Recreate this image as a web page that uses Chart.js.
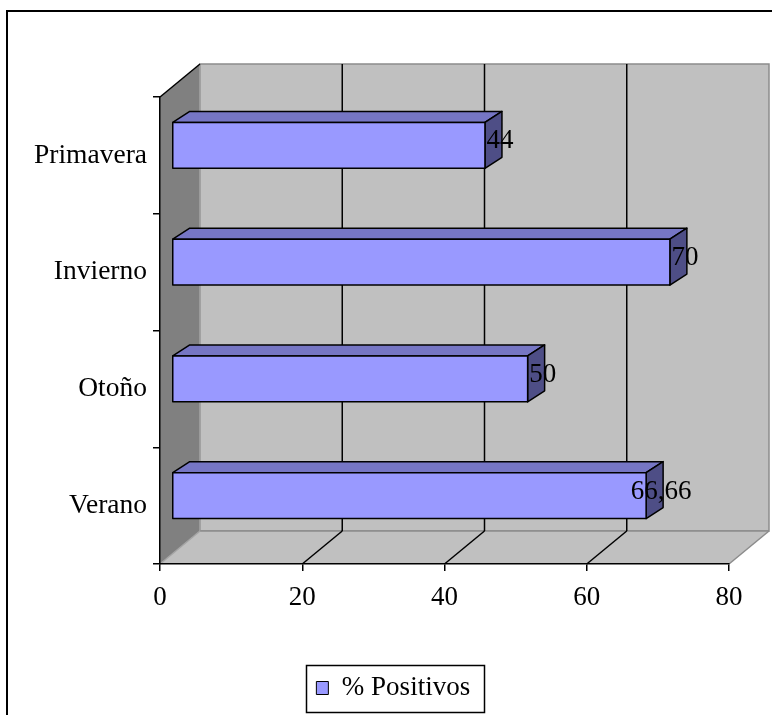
<!DOCTYPE html>
<html>
<head>
<meta charset="utf-8">
<script src="https://cdn.jsdelivr.net/npm/chart.js@4.4.1/dist/chart.umd.min.js"></script>
<style>
  html, body { margin: 0; padding: 0; background: #fff; }
  canvas { display: block; }
</style>
</head>
<body>
<canvas id="chart" width="772" height="715"></canvas>
<script>
// Data
const seasons = ['Primavera', 'Invierno', 'Otoño', 'Verano'];
const positivos = [44, 70, 50, 66.66];
const xTicks = [0, 20, 40, 60, 80];
const seriesName = '% Positivos';

// Look of the 3D box
const FONT = "'Liberation Serif', 'Times New Roman', serif";
const WALL_DEPTH = { dx: 40, dy: -33 };   // back wall offset from the front plane
const BAR_SHIFT = { dx: 12, dy: -10 };    // bar front face offset from the front plane
const BAR_DEPTH = { dx: 17, dy: -11 };    // bar thickness
const LEGEND_SPAN = { left: 57.5 };       // horizontal span the legend is centred in
const COLORS = {
  front: '#9999ff', top: '#7676c4', side: '#4e4e86',
  wall: '#c0c0c0', sideWall: '#808080', wallEdge: '#8c8c8c', faintEdge: '#a4a4a4'
};
const LW = 1.5;

function poly(ctx, pts, fill, stroke, lw) {
  ctx.beginPath();
  ctx.moveTo(pts[0][0], pts[0][1]);
  for (let i = 1; i < pts.length; i++) ctx.lineTo(pts[i][0], pts[i][1]);
  ctx.closePath();
  if (fill) { ctx.fillStyle = fill; ctx.fill(); }
  if (stroke) { ctx.strokeStyle = stroke; ctx.lineWidth = lw || 1; ctx.stroke(); }
}
function line(ctx, x1, y1, x2, y2, color, lw) {
  ctx.beginPath();
  ctx.moveTo(x1, y1); ctx.lineTo(x2, y2);
  ctx.strokeStyle = color; ctx.lineWidth = lw || 1; ctx.stroke();
}

const scene3d = {
  id: 'scene3d',
  afterLayout(chart) {
    // centre the legend between the left margin and the plot's right edge
    const lg = chart.legend;
    if (lg) { lg.left = LEGEND_SPAN.left; lg.right = chart.chartArea.right; }
  },
  beforeDraw(chart) {
    const { ctx, chartArea: a, scales: { x } } = chart;
    const { dx, dy } = WALL_DEPTH;
    const L = a.left, R = a.right, T = a.top, B = a.bottom;
    ctx.save();
    ctx.fillStyle = '#fff';
    ctx.fillRect(0, 0, chart.width, chart.height);

    // back wall
    poly(ctx, [[L + dx, T + dy], [R + dx, T + dy], [R + dx, B + dy], [L + dx, B + dy]],
      COLORS.wall, COLORS.wallEdge, LW);
    // side wall
    poly(ctx, [[L, T], [L + dx, T + dy], [L + dx, B + dy], [L, B]], COLORS.sideWall);
    line(ctx, L + dx, T + dy, L + dx, B + dy, COLORS.faintEdge, LW);
    // floor
    poly(ctx, [[L, B], [L + dx, B + dy], [R + dx, B + dy], [R, B]], COLORS.wall);
    line(ctx, L + dx, B + dy, R + dx, B + dy, COLORS.wallEdge, LW);
    line(ctx, R, B, R + dx, B + dy, COLORS.wallEdge, LW);
    line(ctx, L, B, L + dx, B + dy, COLORS.faintEdge, LW);

    // grid lines on floor and back wall
    xTicks.forEach(v => {
      if (v === x.min || v === x.max) return;
      const px = x.getPixelForValue(v);
      line(ctx, px, B, px + dx, B + dy, '#000', LW);
      line(ctx, px + dx, B + dy, px + dx, T + dy, '#000', LW);
    });
    // top edge of the side wall
    line(ctx, L, T, L + dx, T + dy, '#000', LW);
    ctx.restore();
  },
  afterDatasetsDraw(chart) {
    const { ctx } = chart;
    const meta = chart.getDatasetMeta(0);
    const values = chart.data.datasets[0].data;
    ctx.save();
    ctx.lineJoin = 'round';
    meta.data.forEach((el, i) => {
      const h = el.height;
      const x0 = el.base + BAR_SHIFT.dx, x1 = el.x + BAR_SHIFT.dx;
      const y0 = el.y - h / 2 + BAR_SHIFT.dy, y1 = el.y + h / 2 + BAR_SHIFT.dy;
      const ddx = BAR_DEPTH.dx, ddy = BAR_DEPTH.dy;
      poly(ctx, [[x0, y0], [x0 + ddx, y0 + ddy], [x1 + ddx, y0 + ddy], [x1, y0]], COLORS.top, '#000', LW);
      poly(ctx, [[x1, y0], [x1 + ddx, y0 + ddy], [x1 + ddx, y1 + ddy], [x1, y1]], COLORS.side, '#000', LW);
      poly(ctx, [[x0, y0], [x1, y0], [x1, y1], [x0, y1]], COLORS.front, '#000', LW);

      // value label at the end of the bar
      ctx.fillStyle = '#000';
      ctx.font = '27px ' + FONT;
      ctx.textAlign = 'center';
      ctx.textBaseline = 'middle';
      const txt = String(values[i]).replace('.', ',');
      ctx.fillText(txt, x1 + 15, (y0 + y1) / 2 - 4);
    });
    ctx.restore();
  },
  afterDraw(chart) {
    const { ctx } = chart;
    const lg = chart.legend;
    ctx.save();
    // frame around the legend
    if (lg && lg.lineWidths) {
      const pad = lg.options.labels.padding;
      const lw = lg.lineWidths[0];
      const cx = (lg.left + pad + lg.right - lw) / 2;
      const left = Math.round(cx - 10) + 0.5;
      const right = Math.round(cx + lw + 4) + 0.5;
      ctx.strokeStyle = '#000';
      ctx.lineWidth = 1.5;
      ctx.strokeRect(left, Math.round(lg.top) + 0.5, right - left, Math.round(lg.bottom - lg.top));
    }
    // outer frame
    ctx.lineWidth = 2;
    ctx.strokeStyle = '#000';
    ctx.strokeRect(7, 11, 800, 760);
    ctx.restore();
  }
};

Chart.defaults.font.family = FONT;
Chart.defaults.color = '#000';

new Chart(document.getElementById('chart'), {
  type: 'bar',
  data: {
    labels: seasons,
    datasets: [{
      label: seriesName,
      data: positivos,
      backgroundColor: 'rgba(0,0,0,0)',
      borderWidth: 0,
      barPercentage: 0.394,
      categoryPercentage: 1
    }]
  },
  options: {
    indexAxis: 'y',
    responsive: false,
    animation: false,
    events: [],
    layout: { padding: { top: 97, left: 0, right: 43, bottom: 3.5 } },
    scales: {
      x: {
        type: 'linear',
        min: 0, max: 80,
        afterBuildTicks(s) { s.ticks = xTicks.map(v => ({ value: v })); },
        afterFit(s) {
          s.height = 100.5;
          s.paddingLeft = s.paddingRight = s.paddingTop = s.paddingBottom = 0;
        },
        grid: { display: true, drawOnChartArea: false, drawTicks: true, tickLength: 7, color: '#000', lineWidth: LW },
        border: { display: true, color: '#000', width: LW },
        ticks: { font: { size: 27 }, color: '#000', padding: 11, maxRotation: 0 }
      },
      y: {
        afterFit(s) {
          s.width = 160;
          s.paddingLeft = s.paddingRight = s.paddingTop = s.paddingBottom = 0;
        },
        grid: { display: true, drawOnChartArea: false, drawTicks: true, tickLength: 7, color: '#000', lineWidth: LW, offset: true },
        border: { display: true, color: '#000', width: LW },
        ticks: { font: { size: 27.5 }, color: '#000', padding: 6 }
      }
    },
    plugins: {
      tooltip: { enabled: false },
      legend: {
        display: true,
        position: 'bottom',
        labels: {
          font: { size: 27 },
          color: '#000',
          boxWidth: 12,
          boxHeight: 13,
          padding: 10,
          generateLabels() {
            return [{
              text: seriesName, fillStyle: COLORS.front, strokeStyle: '#000',
              lineWidth: 1, hidden: false, datasetIndex: 0, fontColor: '#000'
            }];
          }
        }
      }
    }
  },
  plugins: [scene3d]
});
</script>
</body>
</html>
